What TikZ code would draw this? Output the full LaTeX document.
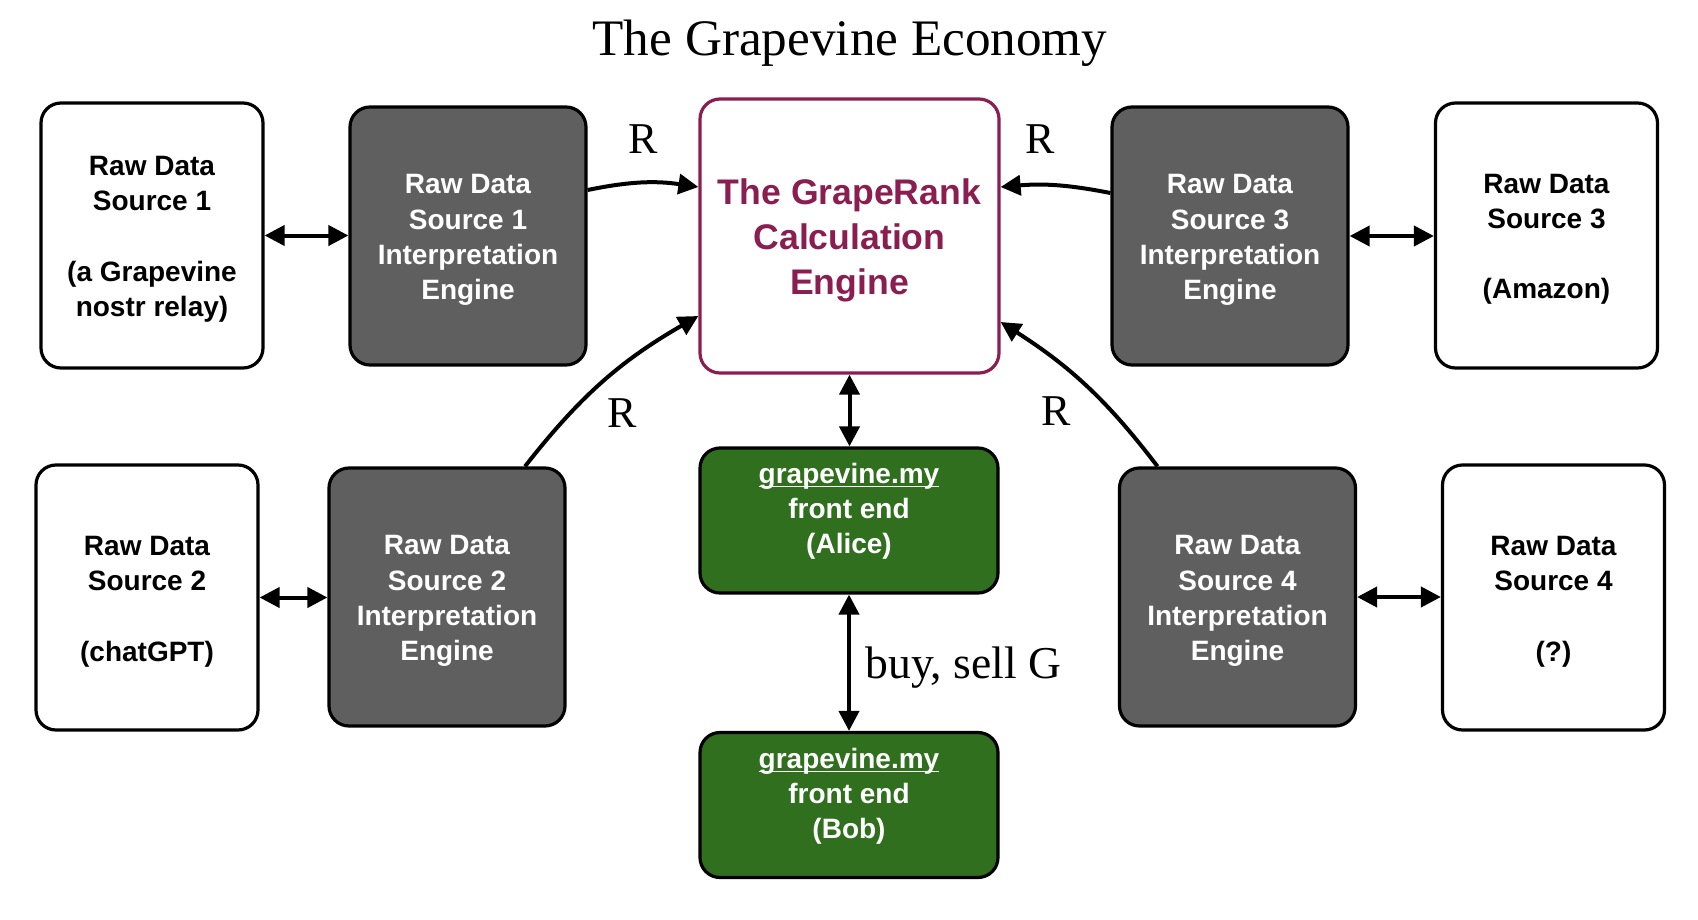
\documentclass[tikz,border=0pt]{standalone}
\usepackage{fontspec}
\setmainfont{Liberation Serif}
\newfontfamily\hvfont{Liberation Sans}
\usetikzlibrary{arrows.meta}
\definecolor{grape}{RGB}{139,30,80}
\definecolor{darkbox}{RGB}{95,95,95}
\definecolor{greenbox}{RGB}{47,111,30}
\newcommand\myul[1]{\setbox0\hbox{#1}\rlap{\rule[-2.2pt]{\wd0}{0.9pt}}\box0}
\newcommand\tstr{\rule{0pt}{13.6pt}}
\newcommand\gstr{\rule{0pt}{17pt}}
\begin{document}
\begin{tikzpicture}[x=0.5pt,y=-0.5pt,
 box/.style={draw=black, line width=1.6pt, rounded corners=10pt, align=center, inner sep=0pt, font=\hvfont\bfseries\fontsize{14}{17.6}\selectfont},
 srcbox/.style={box, fill=white, minimum width=111pt, minimum height=132.5pt},
 intbox/.style={box, fill=darkbox, text=white, minimum width=118pt, minimum height=129pt},
 grbox/.style={box, draw=grape, fill=white, text=grape, minimum width=149.5pt, minimum height=137pt, font=\hvfont\bfseries\fontsize{17.8}{22.5}\selectfont},
 febox/.style={box, fill=greenbox, minimum width=149pt, minimum height=72.5pt},
 fetext/.style={align=center, text=white, inner sep=0pt, font=\hvfont\bfseries\fontsize{14}{17.6}\selectfont},
 conn/.style={line width=2pt, -{Triangle[length=10pt,width=10pt]}},
 dbl/.style={line width=2pt, {Triangle[length=10pt,width=10pt]}-{Triangle[length=10pt,width=10pt]}},
 lab/.style={font=\fontsize{22}{26}\selectfont, inner sep=0pt, anchor=base},
]
\useasboundingbox (0,0) rectangle (1698,920);
\fill[white] (0,0) rectangle (1698,920);

\node[font=\fontsize{25.6}{30}\selectfont, anchor=base, inner sep=0pt] (title) at (850,55.5) {The Grapevine Economy};

\node[srcbox] (src1) at (152,235.5) {\tstr Raw Data\\Source 1\\[17.6pt](a Grapevine\\nostr relay)};
\node[intbox] (int1) at (468,236) {\tstr Raw Data\\Source 1\\Interpretation\\Engine};
\node[grbox] (gr) at (849.5,236) {\gstr The GrapeRank\\Calculation\\Engine};
\node[intbox] (int3) at (1230,236) {\tstr Raw Data\\Source 3\\Interpretation\\Engine};
\node[srcbox] (src3) at (1546.5,235.5) {\tstr Raw Data\\Source 3\\[17.6pt](Amazon)};

\node[srcbox] (src2) at (147,597.5) {\tstr Raw Data\\Source 2\\[17.6pt](chatGPT)};
\node[intbox] (int2) at (447,597) {\tstr Raw Data\\Source 2\\Interpretation\\Engine};
\node[intbox] (int4) at (1237.5,597) {\tstr Raw Data\\Source 4\\Interpretation\\Engine};
\node[srcbox] (src4) at (1553.5,597.5) {\tstr Raw Data\\Source 4\\[17.6pt](?)};

\node[febox] (alice) at (849,520.5) {};
\node[fetext] (alicetxt) at (849,511) {\myul{grapevine.my}\\front end\\(Alice)};
\node[febox] (bob) at (849,805) {};
\node[fetext] (bobtxt) at (849,796) {\myul{grapevine.my}\\front end\\(Bob)};

% double arrows
\draw[dbl] (src1.east) -- (src1.east -| int1.west);
\draw[dbl] (int3.east) -- (int3.east -| src3.west);
\draw[dbl] (src2.east) -- (src2.east -| int2.west);
\draw[dbl] (int4.east) -- (int4.east -| src4.west);
\draw[dbl] (gr.south) -- (gr.south |- alice.north);
\draw[dbl] (alice.south) -- (alice.south |- bob.north);

% R connectors
\draw[conn] ([yshift=23pt]int1.east) to[bend left=10] ([yshift=24.5pt]gr.west);
\draw[conn] ([yshift=21.5pt]int3.west) to[bend right=8] ([yshift=24.5pt]gr.east);
\draw[conn] ([xshift=39pt]int2.north) to[bend left=11] ([yshift=-40pt]gr.west);
\draw[conn] ([xshift=-40pt]int4.north) to[bend right=10] ([yshift=-43pt]gr.east);

\node[lab] (r1) at (643,154) {R};
\node[lab] (r3) at (1040,154) {R};
\node[lab] (r2) at (622,427) {R};
\node[lab] (r4) at (1056,425) {R};
\node[lab, anchor=base west, font=\fontsize{22.8}{26}\selectfont] (bsg) at (865,678) {buy, sell G};
\end{tikzpicture}
\end{document}
